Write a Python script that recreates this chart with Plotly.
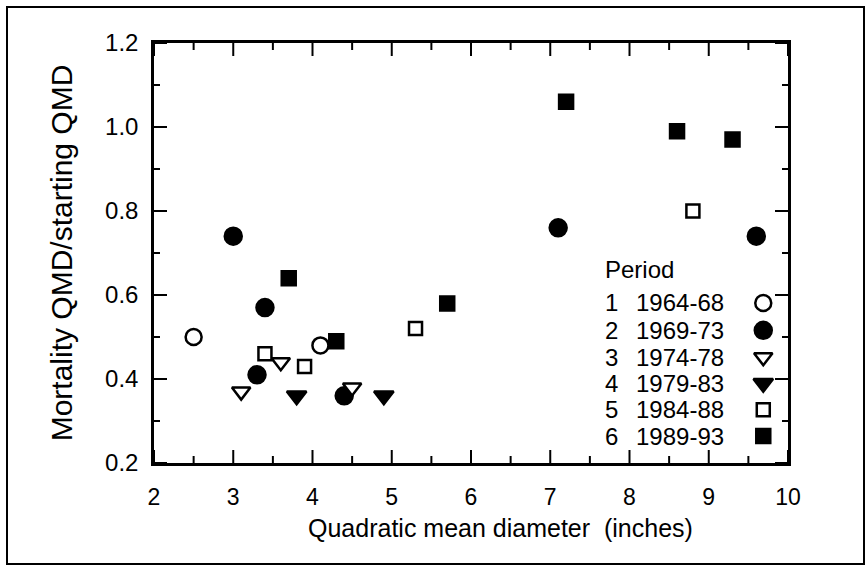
import plotly.graph_objects as go

# Measurement periods
period_numbers = ["1", "2", "3", "4", "5", "6"]
period_labels = ["1964-68", "1969-73", "1974-78", "1979-83", "1984-88", "1989-93"]

# Quadratic mean diameter (inches) and mortality QMD / starting QMD, by period
p1_x = [2.5, 4.1]
p1_y = [0.50, 0.48]
p2_x = [3.0, 3.3, 3.4, 4.4, 7.1, 9.6]
p2_y = [0.74, 0.41, 0.57, 0.36, 0.76, 0.74]
p3_x = [3.1, 3.6, 4.5]
p3_y = [0.37, 0.44, 0.38]
p4_x = [3.8, 4.9]
p4_y = [0.36, 0.36]
p5_x = [3.4, 3.9, 5.3, 8.8]
p5_y = [0.46, 0.43, 0.52, 0.80]
p6_x = [3.7, 4.3, 5.7, 7.2, 8.6, 9.3]
p6_y = [0.64, 0.49, 0.58, 1.06, 0.99, 0.97]

x_ticks = [2, 3, 4, 5, 6, 7, 8, 9, 10]
y_ticks = [0.2, 0.4, 0.6, 0.8, 1.0, 1.2]
x_range = [2, 10]
y_range = [0.2, 1.2]

series_x = [p1_x, p2_x, p3_x, p4_x, p5_x, p6_x]
series_y = [p1_y, p2_y, p3_y, p4_y, p5_y, p6_y]

# plot-area size in pixels (used to give tick marks a fixed pixel length)
plot_w = 868 - 154 - 80
plot_h = 569 - 43 - 106

# marker style per period: (symbol, fill, size)
styles = [
    ("circle", "white", 16),
    ("circle", "black", 17),
    ("triangle-down", "white", 16),
    ("triangle-down", "black", 17),
    ("square", "white", 13),
    ("square", "black", 14),
]

fig = go.Figure()

# inward tick marks on all four sides of the frame
x_minor = [(a + b) / 2 for a, b in zip(x_ticks[:-1], x_ticks[1:])]
y_minor = [(a + b) / 2 for a, b in zip(y_ticks[:-1], y_ticks[1:])]
x_span = x_range[1] - x_range[0]
y_span = y_range[1] - y_range[0]

tick_x, tick_y = [], []
for vals, length in ((x_ticks, 13), (x_minor, 7)):
    dy = length / plot_h * y_span
    for v in vals:
        tick_x += [v, v, None, v, v, None]
        tick_y += [y_range[0], y_range[0] + dy, None, y_range[1], y_range[1] - dy, None]
for vals, length in ((y_ticks, 13), (y_minor, 6)):
    dx = length / plot_w * x_span
    for v in vals:
        tick_x += [x_range[0], x_range[0] + dx, None, x_range[1], x_range[1] - dx, None]
        tick_y += [v, v, None, v, v, None]

fig.add_trace(go.Scatter(
    x=tick_x, y=tick_y, mode="lines", showlegend=False, hoverinfo="skip",
    line=dict(color="black", width=2), connectgaps=False,
))

for xs, ys, lab, (sym, fill, size) in zip(series_x, series_y, period_labels, styles):
    fig.add_trace(go.Scatter(
        x=xs, y=ys, mode="markers", name=lab, showlegend=False,
        marker=dict(symbol=sym, color=fill, size=size,
                    line=dict(color="black", width=2.5)),
    ))

# legend block: key positions given as fractions of the plot area
key_frac_x = 0.961
row_frac_y = [0.381, 0.316, 0.252, 0.19, 0.127, 0.064]


def to_x(f):
    return x_range[0] + f * x_span


def to_y(f):
    return y_range[0] + f * y_span


for i, (sym, fill, size) in enumerate(styles):
    fig.add_trace(go.Scatter(
        x=[to_x(key_frac_x)], y=[to_y(row_frac_y[i])], mode="markers",
        showlegend=False, hoverinfo="skip",
        marker=dict(symbol=sym, color=fill, size=size,
                    line=dict(color="black", width=2.5)),
    ))

legend_font = dict(family="Liberation Sans, Arial", size=24, color="black")
text_x0 = (603 - 154) / 634
text_x1 = (634 - 154) / 634
annotations = [dict(
    x=text_x0, y=0.46, xref="paper", yref="paper",
    text="Period", showarrow=False, xanchor="left", yanchor="middle",
    font=legend_font,
)]
for num, lab, yy in zip(period_numbers, period_labels, row_frac_y):
    annotations.append(dict(
        x=text_x0, y=yy, xref="paper", yref="paper", text=num,
        showarrow=False, xanchor="left", yanchor="middle", font=legend_font,
    ))
    annotations.append(dict(
        x=text_x1, y=yy, xref="paper", yref="paper", text=lab,
        showarrow=False, xanchor="left", yanchor="middle", font=legend_font,
    ))

# x-axis title
annotations.append(dict(
    x=(500 - 154) / 634, y=(463 - 528) / 420, xref="paper", yref="paper",
    text="Quadratic mean diameter \u00a0(inches)", showarrow=False,
    xanchor="center", yanchor="middle",
    font=dict(family="Liberation Sans, Arial", size=25, color="black"),
))

# outer frame around the whole figure
shapes = [dict(
    type="rect", xref="paper", yref="paper",
    x0=(7 - 154) / 634, x1=(864 - 154) / 634,
    y0=(463 - 564) / 420, y1=(463 - 7) / 420,
    line=dict(color="black", width=2), fillcolor="rgba(0,0,0,0)", layer="above",
)]

axis_common = dict(
    showline=True, linecolor="black", linewidth=2.5, mirror=True,
    ticks="", showgrid=False, zeroline=False,
)

fig.update_layout(
    width=868, height=569,
    margin=dict(l=154, r=80, t=43, b=106),
    paper_bgcolor="white", plot_bgcolor="white",
    xaxis=dict(
        range=x_range, tickvals=x_ticks, ticktext=[str(v) for v in x_ticks],
        ticklabelstandoff=12,
        tickfont=dict(family="Liberation Sans, Arial", size=23, color="black"),
        **axis_common,
    ),
    yaxis=dict(
        range=y_range, tickvals=y_ticks, ticktext=[f"{v:.1f}" for v in y_ticks],
        ticklabelstandoff=8,
        tickfont=dict(family="Liberation Sans, Arial", size=24, color="black"),
        title=dict(text="Mortality QMD/starting QMD", standoff=24,
                   font=dict(family="Liberation Sans, Arial", size=30, color="black")),
        **axis_common,
    ),
    annotations=annotations,
    shapes=shapes,
)

fig.write_html("out.html")
